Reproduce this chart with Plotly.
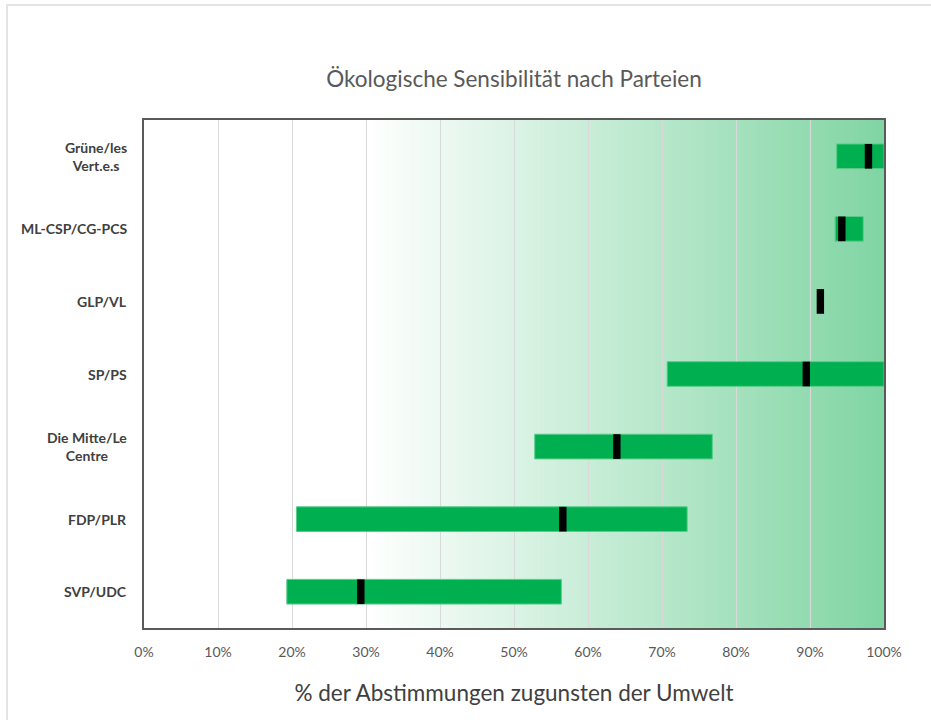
import plotly.graph_objects as go

# Data (bottom to top)
parties = ["SVP/UDC", "FDP/PLR", "Die Mitte/Le<br>Centre", "SP/PS", "GLP/VL",
           "ML-CSP/CG-PCS", "Grüne/les<br>Vert.e.s"]
range_min = [19.3, 20.6, 52.8, 70.7, 91.4, 93.4, 93.6]
range_max = [56.4, 73.4, 76.8, 100.0, 91.4, 97.2, 100.0]
median = [29.3, 56.6, 63.9, 89.5, 91.4, 94.3, 97.9]
x_ticks = [0, 10, 20, 30, 40, 50, 60, 70, 80, 90, 100]

GREEN = "#00B050"
FONT = "Lato"
GRAY = "#595959"

fig = go.Figure()

fig.add_trace(go.Bar(
    y=parties, base=range_min,
    x=[mx - mn for mn, mx in zip(range_min, range_max)],
    orientation="h", width=0.34,
    marker=dict(color=GREEN, line=dict(color="#5BCB8A", width=1)),
    hoverinfo="skip", showlegend=False,
))
fig.add_trace(go.Bar(
    y=parties, base=[m - 0.5 for m in median], x=[1.0] * len(median),
    orientation="h", width=0.34,
    marker=dict(color="black", line=dict(width=0)),
    hoverinfo="skip", showlegend=False,
))

# gradient background from 30% (white) to 100% (green)
shapes = []
start, end, step = 30.0, 100.0, 0.5
c0 = (255, 255, 255)
c1 = (128, 213, 163)
n = int((end - start) / step)
for i in range(n):
    t = (i + 0.5) / n
    col = tuple(round(a + (b - a) * t) for a, b in zip(c0, c1))
    shapes.append(dict(type="rect", xref="x", yref="paper",
                       x0=start + i * step, x1=end,
                       y0=0, y1=1, layer="below",
                       line=dict(width=0),
                       fillcolor="rgb(%d,%d,%d)" % col))
# outer chart frame (top/left visible)
shapes.append(dict(type="rect", xref="paper", yref="paper",
                   x0=(7 - 144) / 740, x1=(940 - 144) / 740,
                   y0=(628 - 730) / 508, y1=(628 - 5) / 508,
                   line=dict(color="#E3E3E3", width=2), layer="below"))

annotations = []
for p in parties:
    annotations.append(dict(
        x=-0.02, xref="paper", y=p, yref="y", text="<b>%s</b>" % p,
        showarrow=False, xanchor="right", yanchor="middle", align="center",
        font=dict(family=FONT, size=14, color="#404040")))

fig.update_layout(
    width=931, height=720,
    margin=dict(l=144, r=47, t=120, b=92),
    paper_bgcolor="white", plot_bgcolor="white",
    barmode="overlay",
    shapes=shapes,
    annotations=annotations,
    title=dict(text="Ökologische Sensibilität nach Parteien",
               x=(514 / 931), xanchor="center",
               y=1 - 79 / 720, yanchor="middle", yref="container",
               font=dict(family=FONT, size=22.5, color=GRAY)),
    xaxis=dict(range=[0, 100], tickvals=x_ticks,
               ticktext=["%d%%" % v for v in x_ticks],
               showgrid=True, gridcolor="#D9D9D9", gridwidth=1,
               zeroline=False, showline=True, linecolor="#5A5A5A",
               linewidth=1.5, mirror=True, ticks="",
               ticklabelstandoff=10,
               tickfont=dict(family=FONT, size=14, color=GRAY),
               title=dict(text="% der Abstimmungen zugunsten der Umwelt",
                          font=dict(family=FONT, size=22.5, color="#404040"),
                          standoff=27)),
    yaxis=dict(categoryorder="array", categoryarray=parties,
               range=[-0.5, 6.5], showgrid=False, zeroline=False,
               showline=True, linecolor="#5A5A5A", linewidth=1.5,
               mirror=True, showticklabels=False, ticks=""),
)

fig.write_html("out.html")
